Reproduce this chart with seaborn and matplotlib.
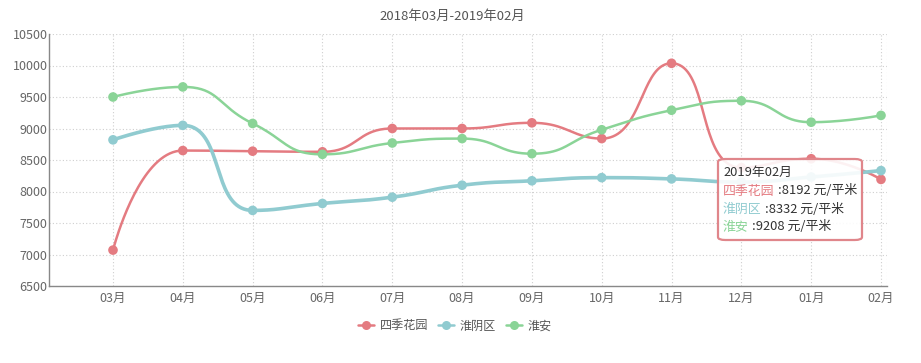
import numpy as np
import pandas as pd
import matplotlib
matplotlib.use("Agg")
import matplotlib.pyplot as plt
import seaborn as sns
from matplotlib.lines import Line2D
from matplotlib.patches import FancyBboxPatch

months = ["03月", "04月", "05月", "06月", "07月", "08月", "09月", "10月", "11月", "12月", "01月", "02月"]
sijihuayuan = [7070, 8650, 8640, 8630, 9000, 9000, 9090, 8840, 10035, 8380, 8520, 8192]
huaiyinqu = [8820, 9050, 7700, 7810, 7910, 8100, 8170, 8220, 8200, 8150, 8230, 8332]
huaian = [9500, 9660, 9080, 8590, 8770, 8840, 8600, 8980, 9290, 9440, 9100, 9208]
series_names = ["四季花园", "淮阴区", "淮安"]
colors = ["#e47b81", "#90cbd0", "#8ad497"]
line_widths = [1.8, 2.6, 1.8]
title = "2018年03月-2019年02月"
tooltip_title = "2019年02月"
unit = " 元/平米"
yticks = [6500, 7000, 7500, 8000, 8500, 9000, 9500, 10000, 10500]

W, H = 921, 363
sns.set_theme(style="white")
plt.rcParams['font.family'] = ['Noto Sans CJK SC', 'DejaVu Sans']

fig = plt.figure(figsize=(W / 100, H / 100), dpi=100)
ax_l, ax_r, ax_t, ax_b = 49, 887, 34, 286
ax = fig.add_axes([ax_l / W, 1 - ax_b / H, (ax_r - ax_l) / W, (ax_b - ax_t) / H])

n = len(months)
x0px, x1px = 113, 881
sp = (x1px - x0px) / (n - 1)
xlim = (-(x0px - ax_l) / sp, (n - 1) + (ax_r - x1px) / sp)
ylim = (6500, 10500)
ppu_y = (ax_b - ax_t) / (ylim[1] - ylim[0])


def smooth_curve(xs, ys, smooth=0.5, steps=40):
    # echarts-5-like constrained bezier smoothing, computed in pixel space
    px = np.asarray(xs, float) * sp
    py = np.asarray(ys, float) * ppu_y
    m = len(px)
    segs = []
    cpx0, cpy0 = px[0], py[0]
    t = np.linspace(0, 1, steps)
    for i in range(1, m):
        x, y = px[i], py[i]
        prevX, prevY = px[i - 1], py[i - 1]
        if i == m - 1:
            cpx1, cpy1 = x, y
            nextCpx0, nextCpy0 = x, y
        else:
            nextX, nextY = px[i + 1], py[i + 1]
            vx, vy = nextX - prevX, nextY - prevY
            lenPrev = np.hypot(x - prevX, y - prevY)
            lenNext = np.hypot(nextX - x, nextY - y)
            r = lenNext / (lenNext + lenPrev)
            nextCpx0 = x + vx * smooth * r
            nextCpy0 = y + vy * smooth * r
            nextCpx0 = min(nextCpx0, max(nextX, x)); nextCpx0 = max(nextCpx0, min(nextX, x))
            nextCpy0 = min(nextCpy0, max(nextY, y)); nextCpy0 = max(nextCpy0, min(nextY, y))
            vx, vy = nextCpx0 - x, nextCpy0 - y
            cpx1 = x - vx * lenPrev / lenNext
            cpy1 = y - vy * lenPrev / lenNext
            cpx1 = min(cpx1, max(prevX, x)); cpx1 = max(cpx1, min(prevX, x))
            cpy1 = min(cpy1, max(prevY, y)); cpy1 = max(cpy1, min(prevY, y))
            vx, vy = x - cpx1, y - cpy1
            nextCpx0 = x + vx * lenNext / lenPrev
            nextCpy0 = y + vy * lenNext / lenPrev
        bx = (1 - t) ** 3 * prevX + 3 * (1 - t) ** 2 * t * cpx0 + 3 * (1 - t) * t ** 2 * cpx1 + t ** 3 * x
        by = (1 - t) ** 3 * prevY + 3 * (1 - t) ** 2 * t * cpy0 + 3 * (1 - t) * t ** 2 * cpy1 + t ** 3 * y
        if i > 1:
            bx, by = bx[1:], by[1:]
        segs.append(np.column_stack([bx, by]))
        cpx0, cpy0 = nextCpx0, nextCpy0
    out = np.vstack(segs)
    return out[:, 0] / sp, out[:, 1] / ppu_y


# grid
for yv in yticks:
    ax.axhline(yv, color="#cfcfcf", lw=0.8, ls=(0, (1, 2)), zorder=0)
for i in range(n):
    ax.axvline(i, color="#cfcfcf", lw=0.8, ls=(0, (1, 2)), zorder=0)
ax.axvline(xlim[1], color="#cfcfcf", lw=0.8, ls=(0, (1, 2)), zorder=0)

xs = np.arange(n)
for name, vals, c, lw in zip(series_names, [sijihuayuan, huaiyinqu, huaian], colors, line_widths):
    cx, cy = smooth_curve(xs, vals)
    dfl = pd.DataFrame({"x": cx, "y": cy})
    sns.lineplot(data=dfl, x="x", y="y", ax=ax, color=c, lw=lw, sort=False,
                 estimator=None, zorder=3)
    dfp = pd.DataFrame({"x": xs, "y": vals})
    sns.scatterplot(data=dfp, x="x", y="y", ax=ax, color=c, s=48, edgecolor="none",
                    zorder=4)

ax.set_xlim(*xlim)
ax.set_ylim(*ylim)
ax.set_xticks(xs)
ax.set_xticklabels(months)
ax.set_yticks(yticks)
ax.set_yticklabels([str(v) for v in yticks])
ax.set_xlabel("")
ax.set_ylabel("")
ax.tick_params(axis="x", colors="#666666", labelsize=9, length=0, pad=4)
ax.tick_params(axis="y", colors="#666666", labelsize=9, length=0, pad=1)
for s in ["top", "right"]:
    ax.spines[s].set_visible(False)
for s in ["left", "bottom"]:
    ax.spines[s].set_color("#888888")
    ax.spines[s].set_linewidth(1.0)

# title
fig.text(452 / W, 1 - 16 / H, title, ha="center", va="center", fontsize=9.5, color="#555555")

# legend
handles = [Line2D([0], [0], color=c, lw=1.8, marker="o", markersize=6.5, markeredgewidth=0)
           for c in colors]
leg = fig.legend(handles, series_names, loc="center", bbox_to_anchor=(455 / W, 1 - 326 / H),
                 ncol=3, frameon=False, fontsize=8.7, handlelength=1.3, handletextpad=0.5,
                 columnspacing=0.8)
for t in leg.get_texts():
    t.set_color("#555555")

# tooltip
bx0, by0, bx1, by1 = 718, 159, 862, 240
box = FancyBboxPatch((bx0 / W, 1 - by1 / H), (bx1 - bx0) / W, (by1 - by0) / H,
                     boxstyle="round,pad=0,rounding_size=0.008", transform=fig.transFigure,
                     facecolor=(1, 1, 1, 0.9), edgecolor="#e0868b", lw=1.6, zorder=10)
fig.patches.append(box)
tx = 723 / W
fig.text(tx, 1 - 172 / H, tooltip_title, ha="left", va="center", fontsize=9.3,
         color="#333333", zorder=11)
last_vals = [sijihuayuan[-1], huaiyinqu[-1], huaian[-1]]
fig.canvas.draw()
renderer = fig.canvas.get_renderer()
for k, (name, c, v) in enumerate(zip(series_names, colors, last_vals)):
    yy = 1 - (191 + 18 * k) / H
    t1 = fig.text(tx, yy, name, ha="left", va="center", fontsize=9.3, color=c, zorder=11)
    bb = t1.get_window_extent(renderer=renderer)
    fig.text((bb.x1 + 3) / W, yy, f":{v}{unit}", ha="left", va="center", fontsize=9.3,
             color="#333333", zorder=11)

fig.savefig("out.png", dpi=100)
